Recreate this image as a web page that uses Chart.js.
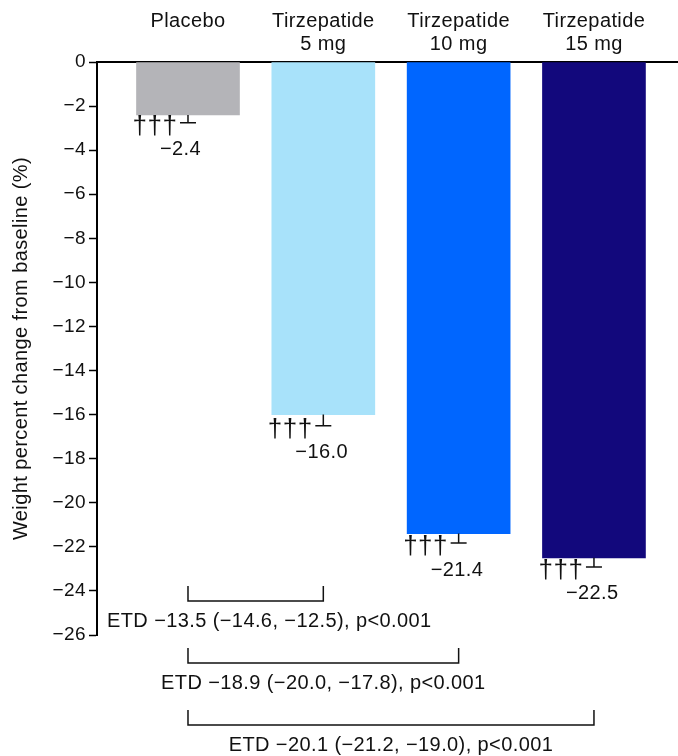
<!DOCTYPE html>
<html>
<head>
<meta charset="utf-8">
<script src="https://cdn.jsdelivr.net/npm/chart.js@4.4.1/dist/chart.umd.min.js"></script>
<style>
  html, body { margin: 0; padding: 0; background: #fff; }
  #wrap { width: 678px; height: 756px; }
</style>
</head>
<body>
<div id="wrap"><canvas id="chart"></canvas></div>
<script>
//data
const groups = [["Placebo", ""], ["Tirzepatide", "5 mg"], ["Tirzepatide", "10 mg"], ["Tirzepatide", "15 mg"]];
const meanChange = [-2.4, -16.0, -21.4, -22.5]; // %
const stdErr = [0.36, 0.5, 0.43, 0.41]; // %
const valueLabels = ["−2.4", "−16.0", "−21.4", "−22.5"];
const sigMarks = ["†††", "†††", "†††", "†††"];
const barColors = ["#b4b4b8", "#a8e2fa", "#0066ff", "#12087c"];

//treatment differences vs placebo
const etdFrom = [0, 0, 0];
const etdTo = [1, 2, 3];
const etdLabels = [
  "ETD −13.5 (−14.6, −12.5), p<0.001",
  "ETD −18.9 (−20.0, −17.8), p<0.001",
  "ETD −20.1 (−21.2, −19.0), p<0.001",
];

const FONT = "'Liberation Sans', Arial, sans-serif";
const INK = "#111";
const LS = "0.4px";
const minus = (v) => (v < 0 ? "−" + Math.abs(v) : String(v));

//letter spacing to match the wider source text
const spacing = {
  id: "spacing",
  beforeLayout(chart) { chart.ctx.letterSpacing = LS; },
  beforeDraw(chart) { chart.ctx.letterSpacing = LS; },
};

//error whiskers, daggers, value labels, ETD brackets
const annotate = {
  id: "annotate",
  afterDatasetsDraw(chart) {
    const ctx = chart.ctx;
    const meta = chart.getDatasetMeta(0);
    const yScale = chart.scales.y;
    const area = chart.chartArea;
    ctx.save();
    ctx.strokeStyle = INK;
    ctx.fillStyle = INK;
    ctx.lineWidth = 1.5;
    meta.data.forEach((bar, i) => {
      const capY = yScale.getPixelForValue(meanChange[i] - stdErr[i]);
      const left = bar.x - bar.width / 2;
      ctx.beginPath();
      ctx.moveTo(bar.x, bar.y);
      ctx.lineTo(bar.x, capY);
      ctx.moveTo(bar.x - 8, capY);
      ctx.lineTo(bar.x + 8, capY);
      ctx.stroke();
      ctx.textAlign = "left";
      ctx.textBaseline = "middle";
      ctx.letterSpacing = "0.5px";
      ctx.font = "26px " + FONT;
      ctx.fillText(sigMarks[i], left - 4, capY + 4);
      ctx.letterSpacing = LS;
      ctx.font = "20px " + FONT;
      ctx.fillText(valueLabels[i], bar.x - 28, capY + 27);
    });
    ctx.font = "20px " + FONT;
    ctx.letterSpacing = LS;
    etdTo.forEach((to, k) => {
      const x1 = meta.data[etdFrom[k]].x;
      const x2 = meta.data[to].x;
      const top = area.bottom - 49 + k * 62;
      ctx.beginPath();
      ctx.moveTo(x1, top);
      ctx.lineTo(x1, top + 15);
      ctx.lineTo(x2, top + 15);
      ctx.lineTo(x2, top);
      ctx.stroke();
      const w = ctx.measureText(etdLabels[k]).width;
      const cx = Math.max((x1 + x2) / 2, area.left + 10 + w / 2);
      ctx.textAlign = "center";
      ctx.fillText(etdLabels[k], cx, top + 35);
    });
    ctx.restore();
  },
};

new Chart(document.getElementById("chart"), {
  type: "bar",
  data: {
    datasets: [
      {
        data: meanChange.map((v, i) => ({ x: i + 1, y: v })),
        backgroundColor: barColors,
        borderWidth: 0,
        barThickness: 103,
      },
    ],
  },
  options: {
    responsive: true,
    maintainAspectRatio: false,
    animation: false,
    layout: { padding: { top: 0, right: 0, bottom: 121, left: 0 } },
    plugins: { legend: { display: false }, tooltip: { enabled: false } },
    scales: {
      x: {
        type: "linear",
        position: "top",
        offset: false,
        min: 0.3276,
        max: 4.621,
        afterBuildTicks: (s) => {
          s.ticks = groups.map((g, i) => ({ value: i + 1 }));
        },
        afterFit: (s) => { s.height = 62; },
        grid: { display: false, drawTicks: false },
        border: { display: true, color: "#000", width: 2 },
        ticks: {
          autoSkip: false,
          maxRotation: 0,
          padding: 6,
          color: INK,
          font: { family: FONT, size: 20, lineHeight: 1.15 },
          callback: (v) => groups[v - 1],
        },
      },
      y: {
        min: -26,
        max: 0,
        afterFit: (s) => { s.width = 97; },
        grid: { drawOnChartArea: false, drawTicks: true, tickLength: 8, tickWidth: 1.5, color: "#000" },
        border: { display: true, color: "#000", width: 2 },
        ticks: {
          stepSize: 2,
          padding: 3,
          color: INK,
          font: { family: FONT, size: 19 },
          callback: (v) => minus(v),
        },
        title: {
          display: true,
          text: "Weight percent change from baseline (%)",
          color: INK,
          font: { family: FONT, size: 20, lineHeight: 1.2 },
          padding: { top: 9, bottom: 0 },
        },
      },
    },
  },
  plugins: [spacing, annotate],
});
</script>
</body>
</html>
